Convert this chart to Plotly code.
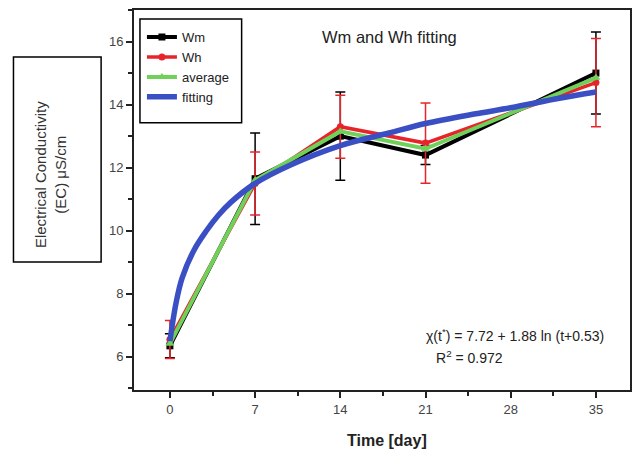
import plotly.graph_objects as go

days = [0, 7, 14, 21, 35]
wm = [6.35, 11.65, 13.0, 12.4, 15.0]
wm_err = [0.38, 1.45, 1.4, 0.3, 1.3]
wh = [6.55, 11.5, 13.3, 12.78, 14.7]
wh_err = [0.6, 1.0, 1.0, 1.27, 1.4]
average = [6.42, 11.6, 13.15, 12.6, 14.85]
fit_days = [0, 0.5, 1, 2, 3, 4, 5, 7, 10, 14, 18, 21, 25, 28, 32, 35]
fit_vals = [6.5, 7.7, 8.5, 9.4, 10.0, 10.5, 10.9, 11.5, 12.1, 12.7, 13.1, 13.4, 13.7, 13.9, 14.2, 14.4]

x_ticks = [0, 7, 14, 21, 28, 35]
y_ticks = [6, 8, 10, 12, 14, 16]

font = "Arial, Liberation Sans, sans-serif"

fig = go.Figure()
fig.add_trace(go.Scatter(
    x=days, y=wm, name="Wm", mode="lines+markers",
    line=dict(color="black", width=4),
    marker=dict(symbol="square", size=7, color="black"),
    error_y=dict(type="data", array=wm_err, color="black", thickness=1.5, width=5),
))
fig.add_trace(go.Scatter(
    x=days, y=wh, name="Wh", mode="lines+markers",
    line=dict(color="#e8242b", width=3.5),
    marker=dict(symbol="circle", size=7, color="#e8242b"),
    error_y=dict(type="data", array=wh_err, color="#e8242b", thickness=1.5, width=5),
))
fig.add_trace(go.Scatter(
    x=days, y=average, name="average", mode="lines+markers",
    line=dict(color="#6fd15a", width=4),
    marker=dict(symbol="triangle-up", size=8, color="#6fd15a"),
))
fig.add_trace(go.Scatter(
    x=fit_days, y=fit_vals, name="fitting", mode="lines",
    line=dict(color="#3a4fc4", width=5.5, shape="spline"),
))

axis_common = dict(
    showline=True, linecolor="#222", linewidth=2, mirror=True,
    ticks="outside", ticklen=6, tickwidth=1.5, tickcolor="#222",
    showgrid=False, zeroline=False,
    tickfont=dict(family=font, size=13, color="#444"),
)

fig.update_xaxes(
    range=[-2.95, 37.8], tickvals=x_ticks, ticktext=[str(v) for v in x_ticks],
    minor=dict(ticks="outside", ticklen=4, tickwidth=1.5, tickcolor="#222", dtick=3.5, tick0=0),
    **axis_common,
)
fig.update_yaxes(
    range=[4.95, 17.0], tickvals=y_ticks, ticktext=[str(v) for v in y_ticks],
    minor=dict(ticks="outside", ticklen=4, tickwidth=1.5, tickcolor="#222", dtick=1, tick0=0),
    **axis_common,
)

fig.update_layout(
    width=635, height=449,
    margin=dict(l=134, r=3, t=10, b=59),
    paper_bgcolor="white", plot_bgcolor="white",
    showlegend=True,
    legend=dict(
        x=0.016, y=0.968, xanchor="left", yanchor="top",
        borderwidth=0, bgcolor="rgba(0,0,0,0)",
        font=dict(family=font, size=13, color="#222"),
        tracegroupgap=0, itemwidth=30,
    ),
    font=dict(family=font),
    annotations=[
        dict(text="Wm and Wh fitting", x=0.516, y=0.929, xref="paper", yref="paper",
             xanchor="center", yanchor="middle", showarrow=False,
             font=dict(family=font, size=16.5, color="#222")),
        dict(text="χ(t<sup>*</sup>) = 7.72 + 1.88 ln (t+0.53)", x=0.585, y=0.145,
             xref="paper", yref="paper", xanchor="left", yanchor="middle", showarrow=False,
             font=dict(family=font, size=14, color="#222")),
        dict(text="R<sup>2</sup> = 0.972", x=0.605, y=0.087,
             xref="paper", yref="paper", xanchor="left", yanchor="middle", showarrow=False,
             font=dict(family=font, size=14, color="#222")),
        dict(text="<b>Time [day]</b>", x=0.51, y=-0.132, xref="paper", yref="paper",
             xanchor="center", yanchor="middle", showarrow=False,
             font=dict(family=font, size=16, color="#222")),
        dict(text="Electrical Conductivity<br>(EC) μS/cm", x=-0.167, y=0.566,
             xref="paper", yref="paper", textangle=-90, showarrow=False,
             xanchor="center", yanchor="middle",
             font=dict(family=font, size=15, color="#333")),
    ],
    shapes=[
        dict(type="rect", xref="paper", yref="paper",
             x0=-0.243, x1=-0.0663, y0=0.337, y1=0.876,
             line=dict(color="black", width=1.5)),
        dict(type="rect", xref="paper", yref="paper",
             x0=0.012, x1=0.217, y0=0.703, y1=0.976,
             line=dict(color="black", width=1.5)),
    ],
)

fig.write_html(
    "out.html",
    config={"displayModeBar": False},
    post_script="document.body.style.margin='0';document.body.style.overflow='hidden';",
)
